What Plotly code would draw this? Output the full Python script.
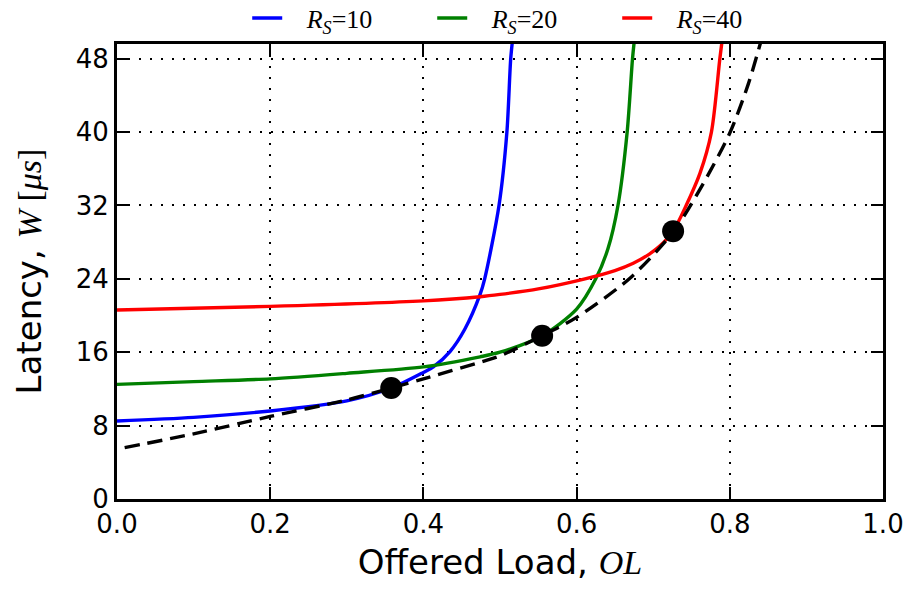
import plotly.graph_objects as go

# ---- data ----
ol_rs10 = [0.0, 0.1, 0.2, 0.3, 0.358, 0.4, 0.413, 0.435, 0.454, 0.474, 0.48, 0.4987, 0.509, 0.514, 0.517]
w_rs10 = [8.5, 8.9, 9.6, 10.7, 12.1, 13.8, 14.4, 16.1, 18.5, 22.3, 24.0, 32.0, 40.0, 48.0, 50.5]

ol_rs20 = [0.0, 0.1, 0.2, 0.3, 0.4, 0.474, 0.5, 0.555, 0.6, 0.625, 0.641, 0.654, 0.666, 0.673, 0.676]
w_rs20 = [12.5, 12.8, 13.1, 13.7, 14.4, 15.5, 16.0, 17.8, 20.7, 24.0, 27.3, 32.0, 40.0, 48.0, 50.5]

ol_rs40 = [0.0, 0.2, 0.4, 0.474, 0.5, 0.55, 0.611, 0.65, 0.674, 0.695, 0.709, 0.726, 0.743,
           0.761, 0.776, 0.787, 0.7915]
w_rs40 = [20.6, 21.0, 21.6, 22.05, 22.3, 22.9, 24.0, 24.9, 25.7, 26.7, 27.6, 29.2, 32.0,
          35.5, 40.0, 48.0, 51.0]

ol_env = [0.01, 0.1, 0.2, 0.3, 0.358, 0.4, 0.478, 0.5, 0.555, 0.6, 0.67, 0.726, 0.761, 0.8, 0.824, 0.84]
w_env = [5.6, 7.1, 9.0, 10.8, 12.1, 13.1, 15.0, 15.6, 17.8, 19.8, 24.1, 29.1, 33.75, 39.9, 45.2, 49.7]

ol_opt = [0.358, 0.555, 0.726]
w_opt = [12.1, 17.8, 29.2]

series_names = ["10", "20", "40"]
series_colors = ["#0000ff", "#008000", "#ff0000"]

x_ticks = [0.0, 0.2, 0.4, 0.6, 0.8, 1.0]
y_ticks = [0, 8, 16, 24, 32, 40, 48]

SERIF = "Liberation Serif, DejaVu Serif, serif"
SANS = "DejaVu Sans, sans-serif"

fig = go.Figure()
for xs, ys, name, col in zip([ol_rs10, ol_rs20, ol_rs40], [w_rs10, w_rs20, w_rs40],
                             series_names, series_colors):
    fig.add_trace(go.Scatter(
        x=xs, y=ys, mode="lines",
        line=dict(color=col, width=3.4, shape="spline", smoothing=0.8),
        name="\u00a0\u00a0\u00a0<i>R</i><sub><i>S</i></sub>=" + name,
    ))

fig.add_trace(go.Scatter(
    x=ol_env, y=w_env, mode="lines", showlegend=False,
    line=dict(color="black", width=3.4, dash="15px,8px", shape="spline", smoothing=0.8),
))
fig.add_trace(go.Scatter(
    x=ol_opt, y=w_opt, mode="markers", showlegend=False,
    marker=dict(color="black", size=22, line=dict(width=0)),
))

axis_common = dict(
    showline=True, linecolor="black", linewidth=3, mirror="allticks",
    ticks="inside", ticklen=12, tickwidth=1.5, tickcolor="black",
    showgrid=True, gridcolor="black", gridwidth=1.6, griddash="2px,9px",
    zeroline=False, tickfont=dict(family=SANS, size=26, color="black"),
    automargin=False,
)

fig.update_xaxes(
    range=[0, 1], tickvals=x_ticks, ticktext=[f"{v:.1f}" for v in x_ticks],
    title=dict(text="Offered Load, <span style='font-family:Liberation Serif'><i>OL</i></span>",
               font=dict(family=SANS, size=34, color="black"), standoff=12),
    **axis_common,
)
fig.update_yaxes(
    range=[0, 49.6], tickvals=y_ticks, ticktext=[str(v) for v in y_ticks],
    title=dict(text="Latency, <span style='font-family:Liberation Serif'><i>W</i> [<i>μs</i>]</span>",
               font=dict(family=SANS, size=34, color="black"), standoff=24),
    **axis_common,
)

fig.update_layout(
    width=921, height=592,
    margin=dict(l=109, r=46, t=36, b=101, autoexpand=False),
    plot_bgcolor="white", paper_bgcolor="white",
    showlegend=True,
    legend=dict(
        orientation="h", x=0.17, xanchor="left", y=1.057, yanchor="middle",
        font=dict(family=SERIF, size=26, color="black"),
        entrywidth=140, entrywidthmode="pixels",
        bgcolor="rgba(0,0,0,0)", borderwidth=0,
    ),
)

fig.write_html("out.html")
